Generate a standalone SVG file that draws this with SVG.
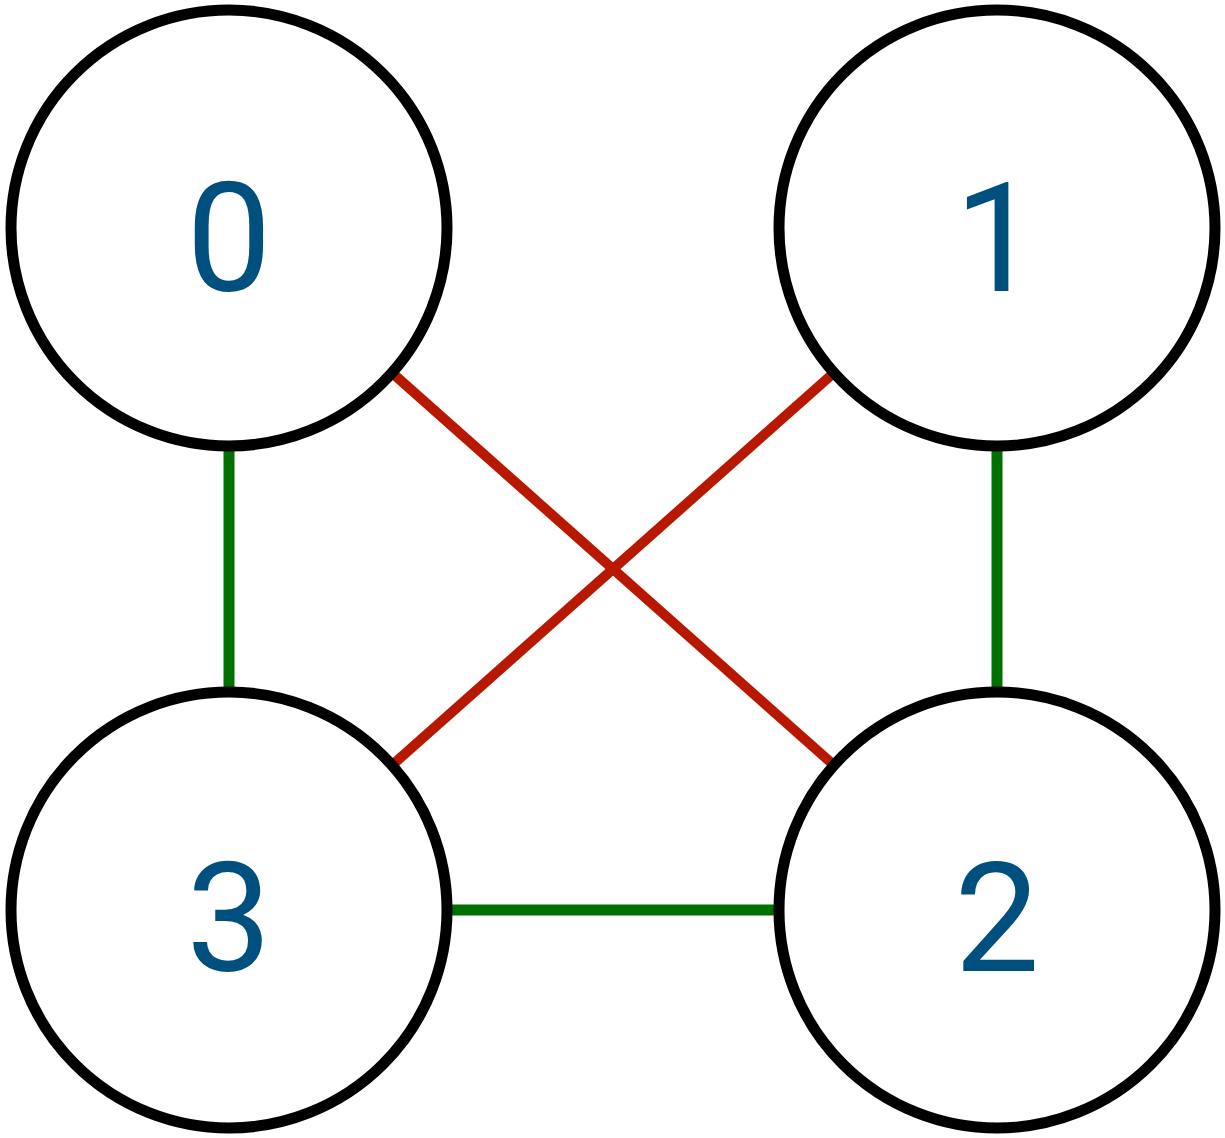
<svg xmlns="http://www.w3.org/2000/svg" width="1225" height="1138" viewBox="0 0 1225 1138">
<style>
.node circle{fill:#fff;stroke:#000;stroke-width:11}
.node text{font-family:Roboto,"Liberation Sans",sans-serif;font-size:152px;fill:#00507f;text-anchor:middle}
.g{stroke:#007000;stroke-width:11}
.r{stroke:#b81800;stroke-width:10}
</style>
<rect width="1225" height="1138" fill="#fff"/>
<g id="edges">
<line class="g" x1="229" y1="228" x2="229" y2="910"/>
<line class="g" x1="997" y1="228" x2="997" y2="910"/>
<line class="g" x1="229" y1="910" x2="997" y2="910"/>
<line class="r" x1="229" y1="228" x2="997" y2="910"/>
<line class="r" x1="997" y1="228" x2="229" y2="910"/>
</g>
<g id="node0" class="node"><circle cx="229" cy="228" r="218"/><text x="229" y="291">0</text></g>
<g id="node1" class="node"><circle cx="997" cy="228" r="218"/><text x="997" y="291">1</text></g>
<g id="node2" class="node"><circle cx="997" cy="910" r="218"/><text x="997" y="971">2</text></g>
<g id="node3" class="node"><circle cx="229" cy="910" r="218"/><text x="229" y="971">3</text></g>
</svg>
